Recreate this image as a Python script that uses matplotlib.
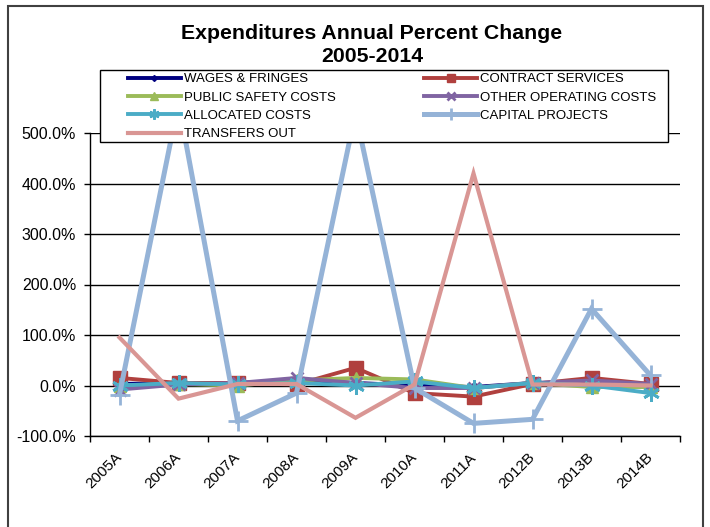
import matplotlib
matplotlib.use('Agg')
import matplotlib.pyplot as plt
from matplotlib.patches import Rectangle
from matplotlib.ticker import FuncFormatter, MultipleLocator

plt.rcParams['font.family'] = ['Liberation Sans', 'DejaVu Sans']

# 年度類別
years = ['2005A', '2006A', '2007A', '2008A', '2009A',
         '2010A', '2011A', '2012B', '2013B', '2014B']

# 各項支出年增率 (%)
wages = [3, 5, 5, 10, 5, 0, -3, 5, 5, 0]
contract = [15, 5, 5, 2, 35, -15, -22, 3, 15, 3]
public_safety = [0, 3, 0, 10, 15, 12, -5, 5, -3, -3]
other_operating = [-8, 2, 5, 15, 5, -5, -5, 5, 10, 3]
allocated = [0, 5, 2, 5, 0, 8, -5, 5, 0, -15]
capital = [-18, 560, -70, -15, 540, -5, -75, -67, 152, 20]
transfers = [95, -26, 3, 3, -64, 2, 420, 2, 2, 0]

labels = ['WAGES & FRINGES', 'CONTRACT SERVICES', 'PUBLIC SAFETY COSTS',
          'OTHER OPERATING COSTS', 'ALLOCATED COSTS', 'CAPITAL PROJECTS',
          'TRANSFERS OUT']

W, H = 710, 527
fig = plt.figure(figsize=(W / 100, H / 100), dpi=100)
ax = fig.add_axes([90 / W, 1 - 436 / H, 590 / W, 303 / H])

x = list(range(len(years)))
series = [
    (wages, '#000080', 'D', 5, 1.0, 2.8),
    (contract, '#B0403E', 's', 10, 1.0, 2.8),
    (public_safety, '#9BBB59', '^', 9, 1.0, 2.8),
    (other_operating, '#8064A2', 'x', 9, 2.0, 2.8),
    (allocated, '#4BACC6', (6, 2, 0), 12, 2.0, 2.8),
    (capital, '#95B3D7', '+', 14, 2.0, 3.6),
    (transfers, '#D99694', None, 0, 1.0, 3.0),
]

lines = []
for (vals, color, marker, ms, mew, lw), lab in zip(series, labels):
    ln, = ax.plot(x, vals, color=color, lw=lw, marker=marker, ms=ms,
                  mew=mew, mec=color, mfc=color, label=lab,
                  solid_joinstyle='miter')
    lines.append(ln)

# 座標軸
ax.set_xlim(-0.5, len(years) - 0.5)
ax.set_ylim(-100, 500)
ax.yaxis.set_major_locator(MultipleLocator(100))
ax.yaxis.set_major_formatter(FuncFormatter(lambda v, p: f'{v:.1f}%'))
ax.grid(axis='y', color='black', lw=1)
ax.set_axisbelow(True)
for side in ['top', 'right']:
    ax.spines[side].set_visible(False)
for side in ['left', 'bottom']:
    ax.spines[side].set_color('black')
    ax.spines[side].set_linewidth(1)

ax.set_xticks(x)
ax.set_xticklabels(years, rotation=45, ha='right', va='center',
                   rotation_mode='anchor', fontsize=11)
ax.set_xticks([i - 0.5 for i in range(len(years) + 1)], minor=True)
ax.tick_params(axis='x', which='major', length=0, pad=14)
ax.tick_params(axis='x', which='minor', length=4, width=1, direction='out')
ax.tick_params(axis='y', length=4, width=1, direction='out', pad=6,
               labelsize=11.5)

# 標題
fig.text(372 / W, 1 - 34 / H, 'Expenditures Annual Percent Change',
         ha='center', va='center', fontsize=15.3, fontweight='bold')
fig.text(372 / W, 1 - 57 / H, '2005-2014',
         ha='center', va='center', fontsize=15.3, fontweight='bold')

# 圖例
box = Rectangle((100 / W, 1 - 142 / H), 568 / W, 72 / H,
                transform=fig.transFigure, facecolor='white',
                edgecolor='black', lw=1, zorder=2)
fig.patches.append(box)
order = [0, 2, 4, 6, 1, 3, 5]
leg = fig.legend([lines[i] for i in order], [labels[i] for i in order],
                 loc='upper left', bbox_to_anchor=(128 / W, 1 - 73 / H),
                 ncol=2, frameon=False, fontsize=9.5, handlelength=4,
                 handletextpad=0.25, columnspacing=6.7, labelspacing=0.46,
                 borderpad=0, borderaxespad=0, markerscale=0.6)
leg.set_zorder(3)

# 外框
frame = Rectangle((8 / W, -0.05), 695 / W, 0.05 + 1 - 6 / H,
                  transform=fig.transFigure, facecolor='none',
                  edgecolor='#404040', lw=1.5, clip_on=False, zorder=4)
fig.patches.append(frame)

fig.savefig('out.png', dpi=100)
